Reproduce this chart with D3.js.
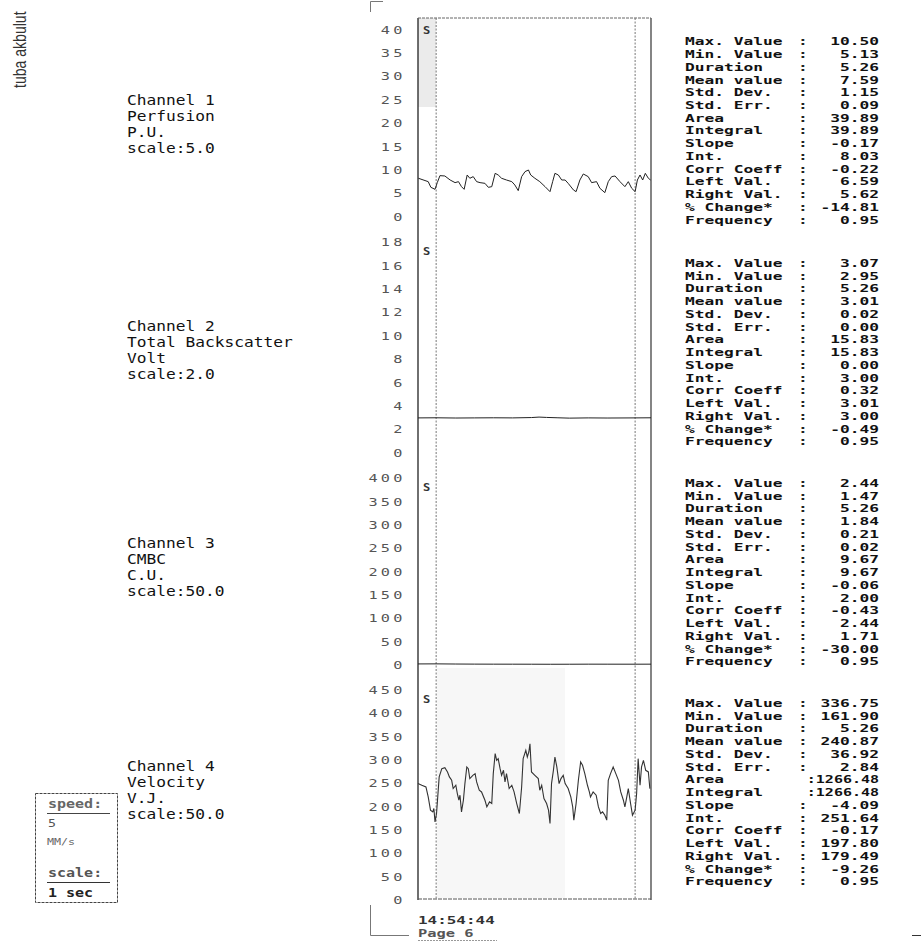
<!DOCTYPE html>
<html><head><meta charset="utf-8">
<script src="https://cdn.jsdelivr.net/npm/d3@7"></script>
<style>
html,body{margin:0;padding:0;background:#fff;}
svg{display:block;}
</style></head>
<body>
<svg id="chart" width="921" height="942"></svg>
<script>
// ---------------- DATA ----------------
const channelNames  = ["Channel 1", "Channel 2", "Channel 3", "Channel 4"];
const channelTitles = ["Perfusion", "Total Backscatter", "CMBC", "Velocity"];
const channelUnits  = ["P.U.", "Volt", "C.U.", "V.J."];
const channelScales = ["scale:5.0", "scale:2.0", "scale:50.0", "scale:50.0"];

const axisMax = [42.5, 20, 450, 500];
const ticks1 = [0, 5, 10, 15, 20, 25, 30, 35, 40];
const ticks2 = [0, 2, 4, 6, 8, 10, 12, 14, 16, 18];
const ticks3 = [0, 50, 100, 150, 200, 250, 300, 350, 400];
const ticks4 = [0, 50, 100, 150, 200, 250, 300, 350, 400, 450];

const timeRange = [0, 6.16];      // seconds across the frame
const cursorTimes = [0.48, 5.74]; // duration 5.26 s

const ch1Time = [0.01,0.27,0.34,0.45,0.51,0.58,0.71,0.85,0.98,1.07,1.15,1.22,1.30,1.37,1.46,1.55,1.64,1.77,1.86,1.95,2.04,2.12,2.21,2.34,2.48,2.56,2.65,2.74,2.83,2.92,2.98,3.09,3.22,3.36,3.49,3.56,3.62,3.71,3.80,3.89,3.97,4.11,4.18,4.28,4.37,4.50,4.59,4.72,4.81,4.94,5.03,5.12,5.21,5.34,5.47,5.56,5.65,5.74,5.80,5.87,5.94,6.01,6.09,6.15];
const ch1Val  = [8.27,7.55,6.34,5.91,7.34,8.83,8.76,7.9,7.34,7.55,6.48,5.91,8.97,8.27,8.62,7.55,7.34,7.19,6.34,6.48,9.33,8.97,8.27,7.9,7.55,6.84,5.63,8.62,9.69,10.04,8.97,8.27,7.55,6.48,5.41,7.55,9.33,8.97,7.9,7.9,7.19,5.77,5.41,7.9,9.19,8.62,7.34,7.55,6.13,5.2,7.55,8.62,8.76,7.55,6.48,7.55,6.13,5.41,7.9,8.97,7.9,9.33,8.27,7.9];

const ch2Time = [0, 0.48, 1.0, 1.5, 2.0, 2.5, 3.0, 3.2, 3.4, 3.7, 4.0, 4.5, 5.0, 5.74, 6.16];
const ch2Val  = [3.0, 3.01, 2.99, 3.0, 3.01, 3.0, 3.03, 3.07, 3.04, 3.01, 2.98, 3.0, 2.99, 3.0, 3.01];

const ch3Time = [0, 0.48, 1.0, 1.5, 2.0, 2.5, 3.0, 3.5, 4.0, 4.5, 5.0, 5.74, 6.16];
const ch3Val  = [2.3, 2.44, 2.1, 1.9, 1.8, 1.75, 1.7, 1.6, 1.65, 1.8, 1.75, 1.71, 1.8];

const ch4Time = [0.00,0.10,0.21,0.27,0.33,0.39,0.42,0.45,0.49,0.56,0.63,0.71,0.78,0.83,0.89,0.93,1.00,1.04,1.08,1.11,1.15,1.20,1.24,1.29,1.33,1.37,1.45,1.51,1.55,1.62,1.68,1.77,1.82,1.89,1.95,1.99,2.04,2.08,2.12,2.17,2.21,2.26,2.30,2.34,2.41,2.48,2.54,2.61,2.68,2.74,2.78,2.85,2.89,2.93,2.96,3.00,3.09,3.18,3.22,3.27,3.33,3.40,3.45,3.49,3.53,3.58,3.62,3.67,3.73,3.78,3.84,3.89,3.97,4.04,4.09,4.12,4.18,4.24,4.30,4.35,4.41,4.48,4.53,4.56,4.63,4.71,4.77,4.83,4.88,4.94,4.99,5.03,5.09,5.16,5.23,5.30,5.36,5.43,5.47,5.52,5.56,5.62,5.67,5.74,5.78,5.82,5.87,5.91,5.96,6.02,6.09,6.13];
const ch4Val  = [249.8,246.2,242.6,221.2,192.7,189.1,196.3,167.7,185.6,264.1,281.9,284.0,274.8,264.1,256.9,239.1,246.2,228.4,214.1,224.8,189.1,214.1,249.8,285.5,281.9,260.5,267.6,271.2,253.4,235.5,231.9,214.1,199.8,210.5,207.0,271.2,314.0,299.7,303.3,281.9,267.6,278.3,253.4,271.2,239.1,246.2,231.9,207.0,185.6,242.6,303.3,321.2,306.9,317.6,335.4,274.8,267.6,260.5,235.5,246.2,217.7,207.0,192.7,164.1,249.8,278.3,306.9,285.5,249.8,260.5,267.6,249.8,239.1,221.2,199.8,171.3,207.0,256.9,296.2,289.0,271.2,246.2,231.9,221.2,231.9,224.8,199.8,185.6,189.1,182.0,171.3,256.9,271.2,285.5,271.2,256.9,231.9,214.1,199.8,221.2,239.1,207.0,182.0,192.7,228.4,303.3,246.2,285.5,299.7,278.3,274.8,239.1];

const statLabels = ["Max. Value","Min. Value","Duration","Mean value","Std. Dev.","Std. Err.","Area","Integral","Slope","Int.","Corr Coeff","Left Val.","Right Val.","% Change*","Frequency"];
const stats1 = ["10.50","5.13","5.26","7.59","1.15","0.09","39.89","39.89","-0.17","8.03","-0.22","6.59","5.62","-14.81","0.95"];
const stats2 = ["3.07","2.95","5.26","3.01","0.02","0.00","15.83","15.83","0.00","3.00","0.32","3.01","3.00","-0.49","0.95"];
const stats3 = ["2.44","1.47","5.26","1.84","0.21","0.02","9.67","9.67","-0.06","2.00","-0.43","2.44","1.71","-30.00","0.95"];
const stats4 = ["336.75","161.90","5.26","240.87","36.92","2.84","1266.48","1266.48","-4.09","251.64","-0.17","197.80","179.49","-9.26","0.95"];

const footerTime = "14:54:44";
const footerPage = "Page 6";
const authorText = "tuba akbulut";
const speedTexts = ["speed:", "5", "MM/s", "scale:", "1 sec"];

// ---------------- LAYOUT ----------------
const svg = d3.select("#chart");
svg.append("rect").attr("width", 921).attr("height", 942).attr("fill", "#fff");
const MONO = "'DejaVu Sans Mono', 'Liberation Mono', monospace";

const frameL = 418, frameR = 651, frameT = 18, frameB = 900;
const x = d3.scaleLinear().domain(timeRange).range([frameL, frameR]);

const panelRanges = [[217, 18], [453, 219], [665, 455], [900, 667]];
const tickSets = [ticks1, ticks2, ticks3, ticks4];
const series = [[ch1Time, ch1Val], [ch2Time, ch2Val], [ch3Time, ch3Val], [ch4Time, ch4Val]];
const yScales = axisMax.map((m, i) => d3.scaleLinear().domain([0, m]).range(panelRanges[i]));

function stext(parent, px, py, str, o) {
  o = o || {};
  const t = parent.append("text")
    .attr("transform", `translate(${px},${py}) scale(${o.sx || 1},1)`)
    .attr("font-family", o.family || MONO)
    .attr("font-size", o.size || 12)
    .attr("font-weight", o.weight || "normal")
    .attr("fill", o.fill || "#111")
    .attr("text-anchor", o.anchor || "start")
    .text(str);
  if (o.ls) t.attr("letter-spacing", o.ls);
  return t;
}

// light shading bits (scan tone)
svg.append("rect").attr("x", frameL).attr("y", frameT).attr("width", 18).attr("height", 89).attr("fill", "#ebebeb");
svg.append("rect").attr("x", 437).attr("y", 668).attr("width", 128).attr("height", 230).attr("fill", "#f7f7f7");

// frame
const frame = svg.append("g");
frame.append("line").attr("x1", frameL).attr("x2", frameL).attr("y1", frameT).attr("y2", frameB).attr("stroke", "#222").attr("stroke-width", 1.3);
frame.append("line").attr("x1", frameR).attr("x2", frameR).attr("y1", frameT).attr("y2", frameB).attr("stroke", "#333").attr("stroke-width", 1.2);
frame.append("line").attr("x1", frameL).attr("x2", frameR).attr("y1", frameT).attr("y2", frameT).attr("stroke", "#666").attr("stroke-width", 1).attr("stroke-dasharray", "3,1");
frame.append("line").attr("x1", frameL).attr("x2", frameR).attr("y1", frameB - 1).attr("y2", frameB - 1).attr("stroke", "#555").attr("stroke-width", 1).attr("stroke-dasharray", "4,1");

// cursors
cursorTimes.forEach(t => {
  frame.append("line").attr("x1", x(t)).attr("x2", x(t)).attr("y1", frameT).attr("y2", frameB)
    .attr("stroke", "#777").attr("stroke-width", 1).attr("stroke-dasharray", "2,1.5");
});

// axes + traces
const line = d3.line().curve(d3.curveLinear);
axisMax.forEach((m, i) => {
  const y = yScales[i];
  const ax = svg.append("g").attr("transform", `translate(${frameL},0)`)
    .call(d3.axisLeft(y).tickValues(tickSets[i]).tickSize(0).tickPadding(16).tickFormat(d3.format("d")));
  ax.select(".domain").remove();
  ax.selectAll("text")
    .attr("x", -12.5 / 1.45)
    .attr("transform", "scale(1.45,1)")
    .attr("font-family", MONO)
    .attr("font-size", 10.5)
    .attr("letter-spacing", 2.2)
    .attr("fill", "#555");
  const [tt, vv] = series[i];
  svg.append("path")
    .attr("d", line(tt.map((t, k) => [x(t), y(vv[k])])))
    .attr("fill", "none")
    .attr("stroke", i === 3 ? "#333" : "#222")
    .attr("stroke-width", i === 3 ? 1.1 : 1);
  stext(svg, 423, panelRanges[i][1] + (i === 0 ? 16 : 36), "S", {size: 11, weight: "bold", fill: "#333", sx: 1.1});
});

// left channel labels
const labelY = [100, 326, 543, 766];
channelNames.forEach((n, i) => {
  const lines = [n, channelTitles[i], channelUnits[i], channelScales[i]];
  lines.forEach((s, k) => {
    stext(svg, 127, labelY[i] + k * 16 + 5, s, {size: 13.5, sx: 1.2, fill: "#111"});
  });
});

// stats blocks
const statsAll = [stats1, stats2, stats3, stats4];
const statY = [41.7, 263.3, 483.3, 703.3];
statsAll.forEach((vals, i) => {
  statLabels.forEach((lab, k) => {
    const yy = statY[i] + k * 12.74 + 3.6;
    stext(svg, 685, yy, lab, {size: 10, sx: 1.62, weight: "bold", fill: "#111"});
    if (vals[k].length >= 7) {
      stext(svg, 879, yy, ":" + vals[k], {size: 10, sx: 1.5, weight: "bold", fill: "#111", anchor: "end"});
    } else {
      stext(svg, 798, yy, ":", {size: 10, sx: 1.62, weight: "bold", fill: "#222"});
      stext(svg, 879, yy, vals[k], {size: 10, sx: 1.62, weight: "bold", fill: "#111", anchor: "end"});
    }
  });
});

// footer
stext(svg, 418, 924, footerTime, {size: 11, sx: 1.45, weight: "bold", fill: "#333"});
stext(svg, 418, 937, footerPage, {size: 11, sx: 1.4, weight: "bold", fill: "#555"});
svg.append("line").attr("x1", 418).attr("x2", 497).attr("y1", 940.5).attr("y2", 940.5).attr("stroke", "#999").attr("stroke-dasharray", "2,1");
svg.append("line").attr("x1", 912).attr("x2", 921).attr("y1", 935.5).attr("y2", 935.5).attr("stroke", "#333");

// corner brackets
svg.append("path").attr("d", "M370.5,12 V1.5 H383").attr("fill", "none").attr("stroke", "#777");
svg.append("path").attr("d", "M370.5,905 V935.5 H409").attr("fill", "none").attr("stroke", "#777");

// rotated author text (condensed by scaling along its length)
svg.append("text")
  .attr("transform", "translate(26,88) rotate(-90) scale(0.74,1)")
  .attr("font-family", "'Liberation Sans',sans-serif")
  .attr("font-size", 19)
  .attr("fill", "#333")
  .text(authorText);

// speed box
const sb = svg.append("g");
sb.append("rect").attr("x", 35.5).attr("y", 793.5).attr("width", 82).attr("height", 109)
  .attr("fill", "none").attr("stroke", "#444").attr("stroke-dasharray", "3,1");
stext(sb, 48, 808, speedTexts[0], {size: 12, sx: 1.25, weight: "bold", fill: "#666"});
sb.append("line").attr("x1", 47).attr("x2", 110).attr("y1", 813.5).attr("y2", 813.5).attr("stroke", "#444");
stext(sb, 48, 827, speedTexts[1], {size: 11, sx: 1.2, fill: "#555"});
stext(sb, 47, 845, speedTexts[2], {size: 9, sx: 1.3, fill: "#666"});
stext(sb, 48, 877, speedTexts[3], {size: 12, sx: 1.25, weight: "bold", fill: "#555"});
sb.append("line").attr("x1", 47).attr("x2", 110).attr("y1", 882.5).attr("y2", 882.5).attr("stroke", "#333");
stext(sb, 48, 897, speedTexts[4], {size: 12, sx: 1.25, weight: "bold", fill: "#222"});
</script>
</body></html>
